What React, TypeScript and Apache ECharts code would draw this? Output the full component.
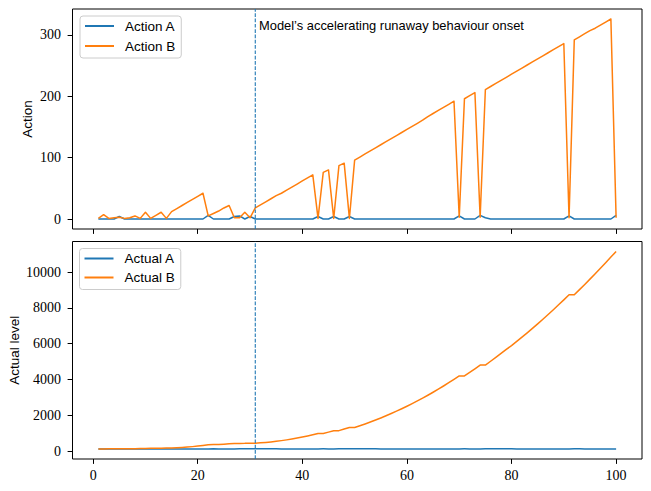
import React, { useEffect, useRef } from "react";
import * as echarts from "echarts";

// Simulation steps 1..100
const STEPS = Array.from({ length: 100 }, (_, i) => i + 1);

const ACTION_A = [
  0, 0, 0, 0, 4, 0, 0, 0, 0, 0,
  0, 0, 0, 0, 0, 0, 0, 0, 0, 0,
  0, 6, 0, 0, 0, 0, 4, 5, 0, 4,
  0, 0, 0, 0, 0, 0, 0, 0, 0, 0,
  0, 0, 4, 0, 0, 4, 0, 0, 4, 0,
  0, 0, 0, 0, 0, 0, 0, 0, 0, 0,
  0, 0, 0, 0, 0, 0, 0, 0, 0, 5,
  0, 0, 0, 6, 2, 0, 0, 0, 0, 0,
  0, 0, 0, 0, 0, 0, 0, 0, 0, 0,
  5, 0, 0, 0, 0, 0, 0, 0, 0, 6,
];

const ACTION_B = [
  1, 7, 1, 2, 3, 1, 2, 5, 1, 11,
  1, 6, 11, 1, 12, 17, 22, 27, 32, 37,
  42, 5, 9, 13, 18, 22, 2, 2, 11, 2,
  18, 23, 28, 33, 38, 42, 47, 52, 57, 62,
  67, 72, 1, 76, 80, 1, 87, 91, 1, 96,
  101, 106, 111, 116, 121, 126, 131, 136, 141, 146,
  151, 156, 161, 167, 172, 177, 182, 187, 192, 3,
  196, 201, 206, 3, 211, 216, 221, 226, 231, 236,
  241, 246, 251, 256, 261, 266, 271, 276, 281, 286,
  2, 292, 297, 302, 307, 311, 316, 321, 326, 2,
];

const ACTUAL_A = [
  120, 120, 120, 120, 120, 124, 123, 122, 121, 121,
  120, 120, 120, 120, 120, 120, 120, 120, 120, 120,
  120, 120, 126, 125, 124, 123, 122, 126, 130, 128,
  131, 129, 128, 127, 126, 125, 124, 123, 123, 122,
  122, 122, 122, 126, 125, 124, 128, 127, 126, 130,
  129, 128, 127, 126, 125, 125, 124, 124, 123, 123,
  123, 122, 122, 122, 121, 121, 121, 121, 121, 121,
  126, 125, 124, 123, 129, 130, 129, 128, 127, 126,
  125, 125, 124, 124, 123, 123, 123, 122, 122, 122,
  122, 127, 126, 125, 124, 124, 123, 123, 122, 122,
];

const ACTUAL_B = [
  120, 121, 128, 129, 131, 134, 135, 137, 142, 143,
  154, 155, 161, 172, 173, 185, 202, 224, 251, 283,
  320, 362, 367, 376, 389, 407, 429, 431, 433, 444,
  446, 464, 487, 515, 548, 586, 628, 675, 727, 784,
  846, 913, 985, 986, 1062, 1142, 1143, 1230, 1321, 1322,
  1418, 1519, 1625, 1736, 1852, 1973, 2099, 2230, 2366, 2507,
  2653, 2804, 2960, 3121, 3288, 3460, 3637, 3819, 4006, 4198,
  4201, 4397, 4598, 4804, 4807, 5018, 5234, 5455, 5681, 5892,
  6125, 6363, 6606, 6854, 7107, 7365, 7628, 7896, 8169, 8447,
  8728, 8730, 9016, 9307, 9603, 9904, 10209, 10519, 10834, 11153,
];

const ONSET_STEP = 31;
const ONSET_LABEL = "Model’s accelerating runaway behaviour onset";

const X_RANGE = [-3.95, 104.95];
const ACTION_RANGE = [-16.3, 342.3];
const LEVEL_RANGE = [-440, 11705];

const X_TICKS = [0, 20, 40, 60, 80, 100];
const ACTION_TICKS = [0, 100, 200, 300];
const LEVEL_TICKS = [0, 2000, 4000, 6000, 8000, 10000];

const BLUE = "#1f77b4";
const ORANGE = "#ff7f0e";
const SANS = "Liberation Sans";
const SERIF = "Liberation Serif";

const pairs = (ys: number[]) => STEPS.map((t, i) => [t, ys[i]]);

const tickStyle = { length: 4.9, lineStyle: { color: "#000", width: 1 } };
const labelStyle = {
  margin: 9.7,
  fontFamily: SERIF,
  fontSize: 14,
  color: "#000",
  formatter: (v: number) => String(v),
};
const yLabelStyle = { ...labelStyle, margin: 11.5 };
const hiddenAxisLine = { show: false, onZero: false };
const nameStyle = { fontFamily: SANS, fontSize: 13.5, color: "#000" };

const legendBase = {
  orient: "vertical",
  itemWidth: 29,
  itemHeight: 10,
  itemGap: 6,
  padding: [3, 6, 5, 4],
  borderColor: "#cccccc",
  borderWidth: 1,
  borderRadius: 3,
  backgroundColor: "rgba(255,255,255,0.8)",
  itemStyle: { opacity: 0, borderWidth: 0 },
  textStyle: { fontFamily: SANS, fontSize: 13.5, color: "#000", padding: [0, 0, 0, 6] },
};

const lineSeries = (name: string, color: string, ys: number[], axis: number) => ({
  name,
  type: "line",
  xAxisIndex: axis,
  yAxisIndex: axis,
  data: pairs(ys),
  showSymbol: false,
  symbol: "none",
  color,
  itemStyle: { color },
  lineStyle: { color, width: 1.5, join: "round" },
});

// dashed vertical rule at the onset step, spanning the full axis height
const onsetSeries = (axis: number, range: number[]) => ({
  name: "onset",
  type: "line",
  xAxisIndex: axis,
  yAxisIndex: axis,
  data: [
    [ONSET_STEP, range[0]],
    [ONSET_STEP, range[1]],
  ],
  showSymbol: false,
  symbol: "none",
  silent: true,
  color: BLUE,
  lineStyle: { color: BLUE, width: 1.1, type: [3.7, 1.6] },
});

export default function App() {
  const ref = useRef<HTMLDivElement>(null);

  useEffect(() => {
    if (!ref.current) return;
    const chart = echarts.init(ref.current, undefined, { renderer: "svg" });
    const gridBase = {
      left: 72.5,
      width: 569.5,
      show: true,
      borderColor: "#000",
      borderWidth: 1,
      backgroundColor: "transparent",
      outerBoundsMode: "none",
      containLabel: false,
    };
    chart.setOption({
      animation: false,
      backgroundColor: "#ffffff",
      grid: [
        { ...gridBase, top: 9, height: 220 },
        { ...gridBase, top: 241.5, height: 217.5 },
      ],
      xAxis: [
        {
          type: "value", gridIndex: 0, min: X_RANGE[0], max: X_RANGE[1],
          axisLine: hiddenAxisLine, splitLine: { show: false },
          axisTick: { ...tickStyle, customValues: X_TICKS },
          axisLabel: { show: false },
        },
        {
          type: "value", gridIndex: 1, min: X_RANGE[0], max: X_RANGE[1],
          axisLine: hiddenAxisLine, splitLine: { show: false },
          axisTick: { ...tickStyle, customValues: X_TICKS },
          axisLabel: { ...labelStyle, customValues: X_TICKS },
        },
      ],
      yAxis: [
        {
          type: "value", gridIndex: 0, min: ACTION_RANGE[0], max: ACTION_RANGE[1],
          name: "Action", nameLocation: "middle", nameGap: 38, nameMoveOverlap: false,
          nameTextStyle: nameStyle,
          axisLine: hiddenAxisLine, splitLine: { show: false },
          axisTick: { ...tickStyle, customValues: ACTION_TICKS },
          axisLabel: { ...yLabelStyle, customValues: ACTION_TICKS },
        },
        {
          type: "value", gridIndex: 1, min: LEVEL_RANGE[0], max: LEVEL_RANGE[1],
          name: "Actual level", nameLocation: "middle", nameGap: 51.5, nameMoveOverlap: false,
          nameTextStyle: nameStyle,
          axisLine: hiddenAxisLine, splitLine: { show: false },
          axisTick: { ...tickStyle, customValues: LEVEL_TICKS },
          axisLabel: { ...yLabelStyle, customValues: LEVEL_TICKS },
        },
      ],
      legend: [
        { ...legendBase, data: ["Action A", "Action B"], left: 80, top: 16 },
        { ...legendBase, data: ["Actual A", "Actual B"], left: 79.5, top: 248.5, itemGap: 5 },
      ],
      graphic: [
        {
          type: "text",
          x: 259,
          y: 25,
          silent: true,
          style: { text: ONSET_LABEL, fontFamily: SANS, fontSize: 12.9, fill: "#000", verticalAlign: "middle" },
        },
      ],
      series: [
        lineSeries("Action A", BLUE, ACTION_A, 0),
        lineSeries("Action B", ORANGE, ACTION_B, 0),
        onsetSeries(0, ACTION_RANGE),
        lineSeries("Actual A", BLUE, ACTUAL_A, 1),
        lineSeries("Actual B", ORANGE, ACTUAL_B, 1),
        onsetSeries(1, LEVEL_RANGE),
      ],
    });
    return () => chart.dispose();
  }, []);

  return (
    <div
      ref={ref}
      style={{ position: "absolute", left: 0, top: 0, width: 651, height: 491 }}
    />
  );
}
